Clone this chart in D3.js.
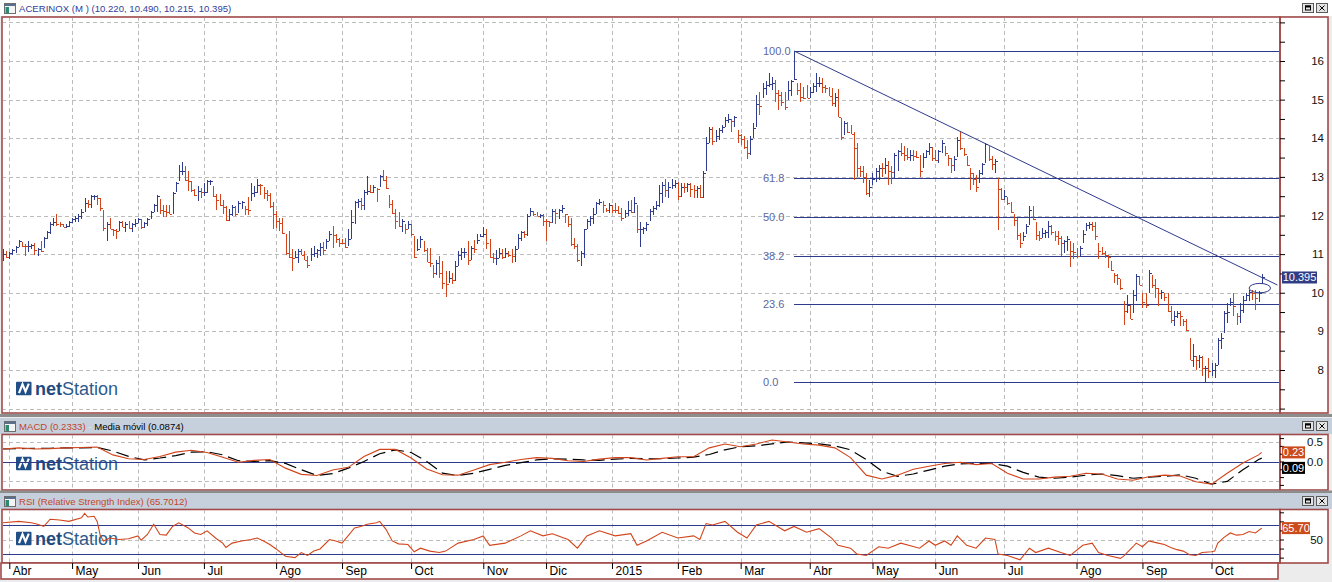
<!DOCTYPE html>
<html>
<head>
<meta charset="utf-8">
<script src="https://cdn.jsdelivr.net/npm/d3@7"></script>
<style>
  body { margin: 0; background: #ececec; }
  svg { display: block; font-family: Arial, "Liberation Sans", sans-serif; }
</style>
</head>
<body>
<script>
// daily bars, ACERINOX, late Mar 2014 .. Oct 2015
var highs = [
  11.12,11.09,11.05,11.12,11.21,11.36,11.31,11.25,11.33,11.25,
  11.28,11.16,11.33,11.44,11.61,11.83,11.94,12.03,11.83,11.79,
  11.79,11.85,11.94,12.00,12.04,12.16,12.46,12.41,12.54,12.54,
  12.54,12.46,12.13,11.83,11.94,11.66,11.66,11.85,11.87,11.83,
  11.87,11.81,11.90,11.94,11.91,11.84,11.94,12.11,12.31,12.52,
  12.43,12.28,12.26,12.26,12.61,12.87,13.32,13.38,13.29,13.15,
  12.89,12.69,12.76,12.72,12.84,12.93,12.93,12.76,12.56,12.56,
  12.39,12.24,12.17,12.26,12.24,12.37,12.37,12.24,12.47,12.84,
  12.76,12.95,12.82,12.73,12.67,12.59,12.35,12.11,11.94,11.94,
  11.51,11.59,11.12,11.08,11.14,11.12,11.09,10.95,11.16,11.21,
  11.14,11.28,11.31,11.38,11.59,11.72,11.53,11.42,11.40,11.42,
  11.64,12.13,12.37,12.43,12.46,12.67,13.03,12.80,12.80,12.72,
  13.06,13.17,13.03,12.52,12.41,12.16,12.09,11.90,11.79,11.85,
  11.77,11.48,11.38,11.47,11.34,11.16,11.15,10.73,10.84,10.95,
  10.82,10.56,10.56,10.50,10.82,11.08,11.16,11.16,11.34,11.22,
  11.36,11.53,11.53,11.71,11.66,11.38,11.03,11.10,11.16,11.12,
  11.15,11.09,11.12,11.21,11.51,11.61,11.59,12.04,12.20,12.11,
  12.09,12.05,12.03,11.90,11.87,12.16,12.17,12.16,12.26,12.05,
  12.00,11.94,11.42,11.25,11.08,11.66,11.90,11.98,12.20,12.34,
  12.43,12.37,12.20,12.33,12.28,12.33,12.24,12.20,12.13,12.37,
  12.41,12.48,12.26,11.83,11.71,11.83,12.16,12.25,12.38,12.79,
  12.88,12.94,12.88,12.94,12.92,12.88,12.85,12.85,12.85,12.84,
  12.79,12.77,12.79,13.14,14.04,14.28,14.28,14.22,14.26,14.34,
  14.54,14.63,14.49,14.58,14.22,14.11,14.06,13.96,14.06,14.39,
  15.12,15.21,15.42,15.47,15.70,15.58,15.51,15.25,15.21,15.21,
  15.47,15.51,16.26,15.42,15.42,15.34,15.38,15.34,15.42,15.68,
  15.59,15.55,15.38,15.34,15.29,15.16,15.27,14.52,14.45,14.43,
  14.34,14.17,13.87,13.27,13.27,13.10,12.92,13.10,13.22,13.31,
  13.37,13.48,13.42,13.27,13.61,13.70,13.87,13.80,13.74,13.70,
  13.70,13.66,13.57,13.61,13.70,13.87,13.78,13.70,13.70,13.96,
  13.80,13.57,13.48,13.53,14.04,14.15,13.74,13.53,13.22,13.09,
  13.05,13.18,13.37,13.87,13.83,13.53,13.46,12.97,12.71,12.65,
  12.49,12.36,12.04,11.93,11.54,11.56,11.78,12.25,12.25,11.84,
  11.59,11.67,11.63,11.87,11.76,11.59,11.59,11.46,11.37,11.46,
  11.33,11.30,11.16,11.22,11.63,11.80,11.82,11.82,11.84,11.28,
  11.18,11.09,10.98,10.81,10.51,10.49,10.35,9.78,9.95,9.69,
  10.08,10.49,10.44,9.99,9.99,10.59,10.47,10.35,10.12,10.08,
  9.99,9.99,9.65,9.52,9.52,9.54,9.32,9.32,8.83,8.68,
  8.37,8.40,8.35,8.11,8.31,8.18,8.18,8.83,8.96,9.52,
  9.73,9.86,9.99,9.47,9.73,9.91,9.99,10.08,10.08,10.08,
  10.04,10.49
];
var lows = [
  10.82,10.90,10.88,10.97,11.02,11.19,11.19,10.95,11.05,11.12,
  10.97,10.95,11.05,11.16,11.40,11.51,11.72,11.74,11.71,11.69,
  11.67,11.71,11.81,11.83,11.83,11.91,12.09,12.20,12.20,12.41,
  12.26,12.11,11.61,11.34,11.64,11.47,11.40,11.60,11.70,11.57,
  11.66,11.57,11.71,11.81,11.66,11.68,11.72,11.90,12.09,12.09,
  12.03,11.96,11.96,12.03,12.05,12.61,12.89,13.06,12.89,12.63,
  12.60,12.50,12.37,12.46,12.50,12.57,12.80,12.48,12.13,12.24,
  12.05,11.85,11.85,11.98,11.98,12.07,12.17,12.01,12.01,12.37,
  12.47,12.59,12.54,12.44,12.37,12.20,11.66,11.67,11.60,11.51,
  10.99,10.91,10.56,10.91,10.78,10.97,10.84,10.65,10.82,10.93,
  10.91,10.95,10.97,11.14,11.34,11.15,11.29,11.18,11.25,11.15,
  11.21,11.38,11.77,12.20,12.13,12.14,12.52,12.59,12.59,12.34,
  12.73,12.89,12.69,12.20,12.04,11.66,11.71,11.57,11.53,11.64,
  11.48,10.91,11.08,11.16,11.06,10.79,10.67,10.39,10.47,10.39,
  10.10,9.89,10.24,10.22,10.30,10.69,10.86,10.91,10.73,10.86,
  11.03,11.25,11.44,11.45,11.14,10.91,10.76,10.73,10.91,10.88,
  10.91,10.93,10.78,10.79,11.12,11.34,11.42,11.48,11.98,11.98,
  11.98,11.94,11.72,11.35,11.70,11.81,11.78,11.92,12.07,11.81,
  11.71,11.21,11.12,10.80,10.69,10.91,11.64,11.72,11.77,12.03,
  12.26,12.07,12.09,12.07,12.07,12.07,12.03,11.85,11.94,11.98,
  12.07,12.07,11.55,11.18,11.51,11.60,11.85,12.02,12.15,12.23,
  12.32,12.49,12.45,12.68,12.71,12.41,12.49,12.58,12.62,12.49,
  12.45,12.45,12.45,12.45,13.14,13.87,13.83,13.91,13.96,14.13,
  14.28,14.39,14.17,14.28,13.87,13.83,13.72,13.46,13.57,14.00,
  14.28,14.60,15.03,15.12,15.34,15.25,14.95,14.73,14.84,14.72,
  15.00,15.09,15.51,15.12,14.95,15.01,15.03,15.03,15.16,15.21,
  15.34,15.16,15.16,15.09,14.84,14.82,14.54,13.96,14.09,14.13,
  14.10,12.92,13.00,13.00,12.84,12.54,12.49,12.79,12.88,12.92,
  13.00,13.08,12.79,12.82,12.97,13.16,13.53,13.42,13.44,13.40,
  13.42,13.48,13.00,13.22,13.48,13.57,13.40,13.40,13.35,13.61,
  13.53,13.28,13.11,13.14,13.51,13.70,13.53,13.28,12.66,12.79,
  12.62,12.84,13.05,13.35,13.41,13.18,13.11,11.63,12.39,12.41,
  12.28,12.06,11.72,11.37,11.16,11.33,11.53,11.76,11.89,11.37,
  11.33,11.41,11.41,11.41,11.50,11.33,11.24,10.94,11.04,11.09,
  10.66,10.87,10.90,10.96,11.30,11.61,11.65,11.59,11.37,10.87,
  10.98,10.90,10.64,10.55,10.25,10.21,10.08,9.17,9.47,9.32,
  9.47,9.78,10.21,9.60,9.60,9.99,10.12,9.86,9.65,9.84,
  9.78,9.49,9.22,9.15,9.34,9.13,9.13,9.00,8.27,8.09,
  8.00,8.05,7.84,7.68,7.79,7.84,7.79,8.14,8.54,8.96,
  9.22,9.65,9.39,9.17,9.22,9.47,9.78,9.78,9.82,9.56,
  9.75,10.215
];
var closes = [
  11.01,10.93,11.02,11.10,11.19,11.33,11.21,11.20,11.22,11.24,
  11.10,11.12,11.09,11.41,11.56,11.79,11.83,11.79,11.77,11.71,
  11.74,11.82,11.90,11.94,12.00,12.09,12.33,12.30,12.50,12.51,
  12.46,12.20,11.67,11.79,11.66,11.62,11.60,11.83,11.71,11.79,
  11.67,11.78,11.81,11.90,11.71,11.81,11.91,12.09,12.28,12.50,
  12.14,12.11,12.10,12.05,12.59,12.84,13.15,13.16,12.91,12.89,
  12.67,12.52,12.63,12.60,12.62,12.89,12.90,12.50,12.41,12.26,
  12.22,11.88,12.03,12.22,12.05,12.33,12.34,12.16,12.15,12.59,
  12.61,12.80,12.78,12.59,12.54,12.24,12.05,11.85,11.81,11.55,
  11.02,10.93,10.91,10.92,11.09,10.99,10.86,10.73,11.01,11.03,
  11.10,11.18,11.10,11.35,11.53,11.50,11.40,11.29,11.28,11.19,
  11.38,11.83,12.34,12.37,12.28,12.60,12.63,12.60,12.73,12.69,
  13.03,12.91,12.72,12.31,12.07,11.87,11.72,11.85,11.64,11.79,
  11.51,10.93,11.12,11.40,11.10,10.79,10.77,10.50,10.78,10.52,
  10.26,10.23,10.39,10.34,10.69,10.99,11.05,11.06,10.86,11.16,
  11.12,11.36,11.48,11.51,11.29,10.92,10.89,10.91,11.02,10.93,
  11.02,10.97,10.96,11.14,11.42,11.57,11.51,12.00,12.11,12.03,
  12.00,12.02,11.87,11.85,11.83,12.11,12.07,12.13,12.20,12.03,
  11.77,11.25,11.21,10.86,11.03,11.64,11.85,11.94,12.04,12.33,
  12.34,12.26,12.13,12.26,12.14,12.13,12.07,11.94,12.07,12.13,
  12.10,12.33,11.64,11.66,11.67,11.77,12.11,12.20,12.28,12.58,
  12.79,12.66,12.75,12.79,12.84,12.51,12.75,12.74,12.81,12.68,
  12.66,12.72,12.49,13.11,13.87,14.23,13.94,14.06,14.22,14.28,
  14.46,14.49,14.44,14.54,14.09,13.97,13.78,13.61,13.97,14.26,
  14.90,14.84,15.29,15.38,15.40,15.42,15.16,15.12,14.95,14.82,
  15.25,15.47,15.53,15.25,15.08,15.05,15.04,15.21,15.35,15.42,
  15.44,15.34,15.29,15.09,14.91,15.08,14.54,14.04,14.39,14.15,
  14.11,13.74,13.22,13.14,13.00,12.58,12.75,12.94,13.16,13.24,
  13.22,13.31,13.14,13.12,13.57,13.66,13.63,13.57,13.51,13.57,
  13.53,13.52,13.14,13.51,13.66,13.77,13.48,13.44,13.66,13.87,
  13.61,13.48,13.31,13.46,13.96,13.74,13.59,13.31,13.09,12.94,
  12.75,13.09,13.34,13.85,13.46,13.34,13.42,12.68,12.43,12.51,
  12.32,12.10,11.89,11.50,11.30,11.46,11.73,12.15,11.91,11.50,
  11.41,11.54,11.56,11.73,11.56,11.46,11.41,11.28,11.33,11.40,
  11.09,11.06,10.94,11.16,11.53,11.76,11.78,11.73,11.46,11.07,
  11.04,10.98,10.92,10.60,10.47,10.38,10.12,9.52,9.69,9.32,
  9.95,10.44,10.21,9.75,9.69,10.51,10.21,10.12,9.99,10.03,
  9.89,9.52,9.30,9.39,9.47,9.39,9.26,9.04,8.27,8.37,
  8.27,8.34,8.05,8.06,7.97,8.01,8.14,8.78,8.83,9.47,
  9.49,9.75,9.65,9.39,9.56,9.82,9.95,10.01,9.99,9.86,
  9.99,10.395
];

var monthLabels = ["Abr","May","Jun","Jul","Ago","Sep","Oct","Nov","Dic","2015",
                   "Feb","Mar","Abr","May","Jun","Jul","Ago","Sep","Oct"];
var monthStarts = [2,22,43,64,87,108,130,153,173,194,215,235,257,277,297,319,342,363,385];

var priceTicks = [7,7.5,8,8.5,9,9.5,10,10.5,11,11.5,12,12.5,13,13.5,14,14.5,15,15.5,16,16.5,17];
var priceLabels = [8,9,10,11,12,13,14,15,16];
var priceGrid = [7,8,9,10,11,12,13,14,15,16,17];

var fibLevels = [0, 23.6, 38.2, 50, 61.8, 100];
var trendLine = [[252, 16.26], [406, 10.2]];   // [bar, price]
var marker = [400.4, 10.12];

// MACD panel: [bar, value]
var macdLine = [
  [0,.32],[5,.35],[10,.32],[15,.33],[20,.35],[25,.36],[30,.37],[35,.17],[40,.07],[45,.05],
  [50,.13],[55,.24],[60,.29],[65,.23],[70,.11],[75,-.02],[80,.03],[85,.05],[90,-.17],[95,-.33],
  [100,-.36],[105,-.22],[110,-.15],[115,.13],[120,.31],[125,.31],[130,.09],[135,-.19],[140,-.34],[145,-.35],
  [150,-.22],[155,-.08],[160,-.02],[165,.05],[170,.1],[175,.08],[180,.02],[185,0],[190,.06],[195,.1],
  [200,.1],[205,.04],[210,.08],[215,.12],[220,.12],[225,.35],[230,.45],[235,.38],[240,.45],[245,.55],
  [250,.5],[255,.45],[260,.42],[265,.35],[270,.1],[275,-.35],[280,-.45],[285,-.35],[290,-.2],[295,-.12],
  [300,-.05],[305,-.02],[310,-.08],[315,-.05],[320,-.3],[325,-.45],[330,-.45],[335,-.4],[340,-.38],[345,-.3],
  [350,-.32],[355,-.45],[360,-.48],[365,-.39],[370,-.35],[375,-.37],[380,-.52],[385,-.58],[390,-.3],[395,-.04],
  [400,.17],[401,.2333]
];
var signalLine = [
  [0,.32],[5,.33],[10,.34],[15,.34],[20,.35],[25,.35],[30,.36],[35,.27],[40,.13],[45,.04],
  [50,.09],[55,.15],[60,.24],[65,.25],[70,.17],[75,.02],[80,0],[85,.02],[90,-.05],[95,-.21],
  [100,-.36],[105,-.31],[110,-.17],[115,0],[120,.2],[125,.3],[130,.23],[135,0],[140,-.3],[145,-.36],
  [150,-.3],[155,-.2],[160,-.1],[165,-.03],[170,.04],[175,.07],[180,.06],[185,.04],[190,.03],[195,.06],
  [200,.08],[205,.07],[210,.07],[215,.09],[220,.11],[225,.18],[230,.3],[235,.38],[240,.4],[245,.45],
  [250,.5],[255,.48],[260,.45],[265,.4],[270,.3],[275,.05],[280,-.25],[285,-.38],[290,-.32],[295,-.22],
  [300,-.12],[305,-.06],[310,-.05],[315,-.05],[320,-.12],[325,-.28],[330,-.4],[335,-.43],[340,-.4],[345,-.35],
  [350,-.32],[355,-.36],[360,-.43],[365,-.4],[370,-.38],[375,-.34],[380,-.43],[385,-.58],[390,-.51],[395,-.21],
  [400,.05],[401,.0874]
];
var macdTicks = [-0.6,-0.4,-0.2,0,0.2,0.4,0.6];
var macdLabels = [0.5, 0.0];

// RSI panel: [bar, value]
var rsiLine = [
  [0,73],[5,75],[9,73],[11,71],[13,68],[15,78],[18,77],[21,75],[25,80],[26,86],[27,81],[29,82],[30,75],
  [31,55],[32,48],[34,52],[37,50],[40,51],[43,55],[44,49],[46,57],[48,71],[50,57],[52,56],[54,68],[56,73],
  [59,66],[61,59],[63,57],[65,62],[68,51],[70,45],[71,39],[73,45],[76,48],[79,50],[81,52],[83,48],[85,43],
  [87,37],[90,27],[93,25],[95,32],[97,28],[99,34],[101,37],[104,50],[106,48],[108,45],[112,66],[114,68],
  [116,71],[119,73],[120,75],[122,64],[124,48],[126,44],[129,43],[131,33],[133,38],[136,34],[139,32],[141,34],
  [145,45],[150,50],[153,55],[155,42],[160,45],[165,55],[168,62],[172,55],[175,58],[180,50],[183,38],[186,55],
  [190,62],[195,55],[200,58],[202,42],[205,48],[210,60],[215,52],[220,55],[222,50],[224,72],[226,70],[230,75],
  [234,60],[237,52],[240,70],[244,75],[249,62],[252,68],[256,60],[260,65],[264,52],[266,42],[270,38],[272,30],
  [275,28],[279,40],[282,38],[286,45],[292,38],[295,48],[297,42],[300,48],[302,42],[304,55],[307,42],[310,38],
  [313,52],[316,50],[317,30],[320,28],[324,22],[327,38],[329,32],[333,38],[337,32],[340,28],[344,42],[347,45],
  [349,32],[352,28],[356,24],[357,27],[360,40],[361,45],[363,40],[365,48],[368,45],[370,43],[372,39],[374,36],
  [376,34],[378,29],[380,28],[382,32],[385,33],[386,34],[387,45],[389,53],[391,59],[393,56],[395,57],[397,61],
  [399,59],[401,65.7]
];
var rsiTicks = [25,37.5,50,62.5,75,87.5];
var rsiLabels = [50];
var rsiBands = [70, 30];

// ---------------------------------------------------------------
var W = 1332, H = 582;
var PL = 2, PR = 1280, AR = 1328;
var RED = "#a14a4a", NAVY = "#2e3a8c", UP = "#2f3c8f", DOWN = "#d2451b";

var x = d3.scaleLinear().domain([2, 385]).range([9.3, 1211.5]);
var yP = d3.scaleLinear().domain([7, 17]).range([408.6, 22.4]);
var yM = d3.scaleLinear().domain([-0.5, 0.5]).range([481, 442]);
var yR = d3.scaleLinear().domain([30, 70]).range([554, 525]);

var svg = d3.select("body").append("svg")
    .attr("width", W)
    .attr("height", H);

svg.append("rect").attr("width", W).attr("height", H).attr("fill", "#ececec");

function header(y, h, fill, parts) {
  svg.append("rect").attr("x", 0).attr("y", y).attr("width", W).attr("height", h).attr("fill", fill);
  // little window icon
  var ic = svg.append("g").attr("transform", "translate(4," + (y + 3) + ")");
  ic.append("rect").attr("x", 0.5).attr("y", 0.5).attr("width", 11).attr("height", 10)
      .attr("fill", "#f4f4f4").attr("stroke", "#6d6d6d");
  ic.append("rect").attr("x", 1).attr("y", 1).attr("width", 10).attr("height", 2).attr("fill", "#5a6f8c");
  ic.append("rect").attr("x", 1.5).attr("y", 4).attr("width", 3.5).attr("height", 6).attr("fill", "#2c8a72");
  var t = svg.append("text").attr("x", 19).attr("y", y + h - 4).attr("font-size", "9.6px");
  parts.forEach(function(p) {
    t.append("tspan").attr("fill", p[1]).text(p[0]);
  });
  // buttons
  [1302, 1316].forEach(function(bx, k) {
    var b = svg.append("g").attr("transform", "translate(" + bx + "," + (y + 3) + ")");
    b.append("rect").attr("x", 0.5).attr("y", 0.5).attr("width", 11).attr("height", 9)
        .attr("fill", "#e4e4e4").attr("stroke", "#5b5b5b");
    if (k == 0) {
      b.append("rect").attr("x", 3.5).attr("y", 3).attr("width", 5).attr("height", 4)
          .attr("fill", "none").attr("stroke", "#000");
      b.append("rect").attr("x", 3).attr("y", 2.5).attr("width", 6).attr("height", 2).attr("fill", "#000");
    } else {
      b.append("path").attr("d", "M3.5,2.5L8.5,7.5M8.5,2.5L3.5,7.5").attr("stroke", "#000");
    }
  });
}

function frame(top, bot) {
  svg.append("rect").attr("x", PL).attr("y", top).attr("width", PR - PL).attr("height", bot - top)
      .attr("fill", "#fff");
  svg.append("rect").attr("x", PR).attr("y", top).attr("width", AR - PR).attr("height", bot - top)
      .attr("fill", "#fff");
}

function border(top, bot) {
  svg.append("rect").attr("x", PL).attr("y", top).attr("width", PR - PL).attr("height", bot - top)
      .attr("fill", "none").attr("stroke", RED).attr("stroke-width", 1.6);
  svg.append("rect").attr("x", PR).attr("y", top).attr("width", AR - PR).attr("height", bot - top)
      .attr("fill", "none").attr("stroke", RED).attr("stroke-width", 1.6);
}

function vgrid(g, top, bot) {
  g.selectAll(null).data(monthStarts).enter().append("line")
      .attr("x1", function(d) { return Math.round(x(d)) + 0.5; })
      .attr("x2", function(d) { return Math.round(x(d)) + 0.5; })
      .attr("y1", top).attr("y2", bot)
      .attr("stroke", "#bcbcbc").attr("stroke-dasharray", "4,3");
}

function hgrid(g, ys) {
  g.selectAll(null).data(ys).enter().append("line")
      .attr("x1", PL).attr("x2", PR)
      .attr("y1", function(d) { return Math.round(d) + 0.5; })
      .attr("y2", function(d) { return Math.round(d) + 0.5; })
      .attr("stroke", "#bcbcbc").attr("stroke-dasharray", "4,3");
}

function logo(g, top) {
  var l = g.append("g").attr("transform", "translate(16," + top + ")");
  l.append("rect").attr("width", 15.5).attr("height", 13.5).attr("rx", 1).attr("fill", "#1f4f86");
  l.append("path").attr("d", "M3,11.5L6.5,2.5L9.5,10L12.8,2")
      .attr("fill", "none").attr("stroke", "#fff").attr("stroke-width", 2.2);
  var t = l.append("text").attr("x", 19).attr("y", 13.3).attr("font-size", "18px");
  t.append("tspan").attr("font-weight", "bold").attr("fill", "#1f4a80").text("net");
  t.append("tspan").attr("fill", "#2d5b8c").text("Station");
}

function clip(id, top, bot) {
  svg.append("clipPath").attr("id", id).append("rect")
      .attr("x", PL + 1).attr("y", top + 1).attr("width", PR - PL - 2).attr("height", bot - top - 2);
  return svg.append("g").attr("clip-path", "url(#" + id + ")");
}

function valueBox(yc, w, fill, label) {
  svg.append("rect").attr("x", 1282).attr("y", yc - 6).attr("width", w).attr("height", 12).attr("fill", fill);
  svg.append("text").attr("x", 1282 + w / 2).attr("y", yc + 4).attr("text-anchor", "middle")
      .attr("font-size", "11px").attr("fill", "#fff").text(label);
}

// ---------------- main price panel ----------------
header(0, 16, "#ffffff", [["ACERINOX (M ) (10.220, 10.490, 10.215, 10.395)", "#34409a"]]);
frame(17, 413);
var gMain = clip("cMain", 17, 413);
vgrid(gMain, 17, 413);
hgrid(gMain, priceGrid.map(yP));
logo(gMain, 381.7);

var hi = d3.max(highs), lo = d3.min(lows);
var fibX = x(highs.indexOf(hi));
gMain.selectAll(null).data(fibLevels).enter().append("line")
    .attr("x1", fibX).attr("x2", PR)
    .attr("y1", function(d) { return Math.round(yP(lo + (hi - lo) * d / 100)) + 0.5; })
    .attr("y2", function(d) { return Math.round(yP(lo + (hi - lo) * d / 100)) + 0.5; })
    .attr("stroke", NAVY).attr("stroke-width", 1);
gMain.selectAll(null).data(fibLevels).enter().append("text")
    .attr("x", 763)
    .attr("y", function(d) { return yP(lo + (hi - lo) * d / 100) + 4; })
    .attr("font-size", "11px").attr("fill", "#5d67a3")
    .text(function(d) { return d.toFixed(1); });

gMain.append("line")
    .attr("x1", x(trendLine[0][0])).attr("y1", yP(trendLine[0][1]))
    .attr("x2", x(trendLine[1][0])).attr("y2", yP(trendLine[1][1]))
    .attr("stroke", NAVY).attr("stroke-width", 1);

var bars = gMain.append("g").attr("shape-rendering", "crispEdges");
closes.forEach(function(c, i) {
  var col = (i == 0 || c >= closes[i - 1]) ? UP : DOWN;
  var xi = Math.round(x(i)) + 0.5;
  bars.append("line").attr("x1", xi).attr("x2", xi)
      .attr("y1", yP(highs[i])).attr("y2", yP(lows[i]))
      .attr("stroke", col).attr("stroke-width", 1);
  bars.append("line").attr("x1", xi).attr("x2", xi + 2.5)
      .attr("y1", Math.round(yP(c)) + 0.5).attr("y2", Math.round(yP(c)) + 0.5)
      .attr("stroke", col).attr("stroke-width", 1);
});

gMain.append("ellipse")
    .attr("cx", x(marker[0])).attr("cy", yP(marker[1]))
    .attr("rx", 10.7).attr("ry", 4.7)
    .attr("fill", "none").attr("stroke", NAVY).attr("stroke-width", 1);

border(17, 413);

var axP = svg.append("g").attr("transform", "translate(" + PR + ",0)")
    .call(d3.axisRight(yP).tickValues(priceTicks).tickSize(5).tickFormat(""));
axP.select(".domain").remove();
svg.selectAll(null).data(priceLabels).enter().append("text")
    .attr("x", 1324).attr("y", function(d) { return yP(d) + 4; })
    .attr("text-anchor", "end").attr("font-size", "11.5px").attr("fill", "#111")
    .text(function(d) { return d; });
valueBox(yP(10.395), 35, "#2f3d86", "10.395");

// separator
svg.append("rect").attr("x", 0).attr("y", 414).attr("width", W).attr("height", 3).attr("fill", "#8d8d8d");

// ---------------- MACD panel ----------------
header(418, 16, "#c6d0dc", [["MACD (0.2333)", "#c2472a"], [" - ", "#e8e8e8"], ["Media m\u00f3vil (0.0874)", "#000"]]);
frame(434.5, 490);
var gMacd = clip("cMacd", 434.5, 490);
vgrid(gMacd, 434.5, 490);
hgrid(gMacd, [yM(0.5), yM(-0.5)]);
logo(gMacd, 456.7);
gMacd.append("line").attr("x1", PL).attr("x2", PR)
    .attr("y1", Math.round(yM(0)) + 0.5).attr("y2", Math.round(yM(0)) + 0.5)
    .attr("stroke", NAVY).attr("stroke-width", 1);

var lineM = d3.line()
    .x(function(d) { return x(d[0]); })
    .y(function(d) { return yM(d[1]); });
gMacd.append("path").datum(signalLine)
    .attr("d", lineM).attr("fill", "none").attr("stroke", "#000")
    .attr("stroke-width", 1.2).attr("stroke-dasharray", "13,6");
gMacd.append("path").datum(macdLine)
    .attr("d", lineM).attr("fill", "none").attr("stroke", DOWN).attr("stroke-width", 1.1);
border(434.5, 490);

var axM = svg.append("g").attr("transform", "translate(" + PR + ",0)")
    .call(d3.axisRight(yM).tickValues(macdTicks).tickSize(4).tickFormat(""));
axM.select(".domain").remove();
svg.selectAll(null).data(macdLabels).enter().append("text")
    .attr("x", 1323).attr("y", function(d) { return yM(d) + 4; })
    .attr("text-anchor", "end").attr("font-size", "11.5px").attr("fill", "#111")
    .text(function(d) { return d.toFixed(1); });
var mLast = macdLine[macdLine.length - 1][1], sLast = signalLine[signalLine.length - 1][1];
valueBox(yM(mLast), 23, "#cc4b1d", mLast.toFixed(2));
valueBox(Math.max(yM(sLast), yM(mLast) + 15.5), 23, "#000", sLast.toFixed(2));

svg.append("rect").attr("x", 0).attr("y", 490.5).attr("width", W).attr("height", 2.5).attr("fill", "#8d8d8d");

// ---------------- RSI panel ----------------
header(493, 16, "#c6d0dc", [["RSI (Relative Strength Index) (65.7012)", "#c2472a"]]);
frame(509.5, 563);
var gRsi = clip("cRsi", 509.5, 563);
vgrid(gRsi, 509.5, 563);
hgrid(gRsi, [yR(50)]);
logo(gRsi, 531.7);
gRsi.selectAll(null).data(rsiBands).enter().append("line")
    .attr("x1", PL).attr("x2", PR)
    .attr("y1", function(d) { return Math.round(yR(d)) + 0.5; })
    .attr("y2", function(d) { return Math.round(yR(d)) + 0.5; })
    .attr("stroke", NAVY).attr("stroke-width", 1);
gRsi.append("path").datum(rsiLine)
    .attr("d", d3.line().x(function(d) { return x(d[0]); }).y(function(d) { return yR(d[1]); }))
    .attr("fill", "none").attr("stroke", DOWN).attr("stroke-width", 1.1);
border(509.5, 563);

var axR = svg.append("g").attr("transform", "translate(" + PR + ",0)")
    .call(d3.axisRight(yR).tickValues(rsiTicks).tickSize(4).tickFormat(""));
axR.select(".domain").remove();
svg.selectAll(null).data(rsiLabels).enter().append("text")
    .attr("x", 1323).attr("y", function(d) { return yR(d) + 4; })
    .attr("text-anchor", "end").attr("font-size", "11.5px").attr("fill", "#111")
    .text(function(d) { return d; });
var rLast = rsiLine[rsiLine.length - 1][1];
valueBox(yR(rLast), 28, "#cc4b1d", rLast.toFixed(2));

// ---------------- date axis ----------------
svg.append("rect").attr("x", 1).attr("y", 563).attr("width", 1277).attr("height", 16)
    .attr("fill", "#fff").attr("stroke", RED).attr("stroke-width", 1.6);
var axD = svg.append("g").attr("transform", "translate(0,563)")
    .call(d3.axisBottom(x).tickValues(monthStarts).tickSize(6)
      .tickFormat(function(d, k) { return monthLabels[k]; }));
axD.select(".domain").remove();
axD.selectAll(".tick line").attr("stroke", "#000");
axD.selectAll(".tick text")
    .attr("text-anchor", "start").attr("x", 3).attr("y", 3).attr("dy", "0.71em")
    .attr("font-size", "12px").attr("font-family", "Arial, 'Liberation Sans', sans-serif")
    .attr("fill", "#000");
</script>
</body>
</html>
